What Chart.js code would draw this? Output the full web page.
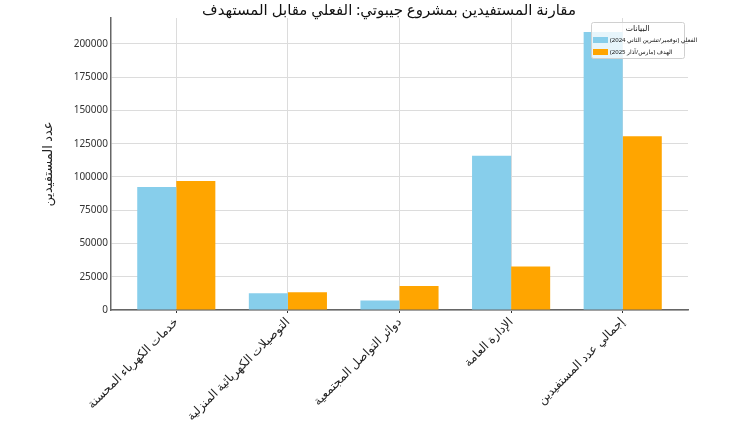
<!DOCTYPE html>
<html>
<head>
<meta charset="utf-8">
<script src="https://cdn.jsdelivr.net/npm/chart.js@4/dist/chart.umd.min.js"></script>
<style>
    html, body { margin: 0; padding: 0; background: #fff; }
    #wrap { width: 750px; height: 422px; }
</style>
</head>
<body>
<div id="wrap"><canvas id="grafica"></canvas></div>
<script>
// ============================
// DATOS
// ============================

const categorias = [
    "خدمات الكهرباء المحسنة",
    "التوصيلات الكهربائية المنزلية",
    "دوائر التواصل المجتمعية",
    "الإدارة العامة",
    "إجمالي عدد المستفيدين"
];

const valoresActual = [92500, 12500, 7200, 116000, 209000];
const valoresMeta = [97000, 13300, 18000, 32700, 130600];

const etiquetasSerie = [
    "الفعلي (نوفمبر/تشرين الثاني 2024)",
    "الهدف (مارس/آذار 2025)"
];

const ticksY = [0, 25000, 50000, 75000, 100000, 125000, 150000, 175000, 200000];

const titulo = "مقارنة المستفيدين بمشروع جيبوتي: الفعلي مقابل المستهدف";
const tituloY = "عدد المستفيدين";
const tituloLeyenda = "البيانات";

const fuente = "'Noto Sans', 'DejaVu Sans', sans-serif";


// ============================
// LEYENDA (dentro del área)
// ============================

const leyenda = {
    id: "leyenda",
    afterDatasetsDraw(chart) {
        const a = chart.chartArea;
        const ctx = chart.ctx;
        const w = 93, h = 36;
        const x = a.right - w - 4;
        const y = a.top + 4;

        ctx.save();
        ctx.fillStyle = "rgba(255,255,255,0.8)";
        ctx.strokeStyle = "#d0d0d0";
        ctx.lineWidth = 1;
        ctx.beginPath();
        ctx.roundRect(x + 0.5, y + 0.5, w, h, 2);
        ctx.fill();
        ctx.stroke();

        ctx.fillStyle = "#222";
        ctx.font = "8px " + fuente;
        ctx.textAlign = "center";
        ctx.textBaseline = "middle";
        ctx.fillText(tituloLeyenda, x + w / 2, y + 7);

        chart.data.datasets.forEach((ds, i) => {
            const fy = y + 18 + i * 12;
            ctx.fillStyle = ds.backgroundColor;
            ctx.fillRect(x + 2, fy - 3, 15, 6);
            ctx.fillStyle = "#111";
            ctx.font = "6px " + fuente;
            ctx.textAlign = "left";
            ctx.fillText(ds.label, x + 19, fy);
        });
        ctx.restore();
    }
};


// ============================
// GRÁFICA
// ============================

const ctx = document.getElementById("grafica").getContext("2d");

new Chart(ctx, {
    type: "bar",
    data: {
        datasets: [
            {
                label: etiquetasSerie[0],
                data: valoresActual.map((v, i) => ({ x: i, y: v })),
                backgroundColor: "#87CEEB"
            },
            {
                label: etiquetasSerie[1],
                data: valoresMeta.map((v, i) => ({ x: i, y: v })),
                backgroundColor: "#FFA500"
            }
        ]
    },
    options: {
        responsive: true,
        maintainAspectRatio: false,
        animation: false,
        categoryPercentage: 0.7,
        barPercentage: 1,
        layout: { padding: { left: 40, right: 12, top: 0, bottom: 0 } },
        plugins: {
            title: {
                display: true,
                text: titulo,
                color: "#111",
                font: { family: fuente, size: 15, weight: "normal", lineHeight: 1 },
                padding: { top: 3, bottom: 0 }
            },
            legend: { display: false },
            tooltip: { enabled: false }
        },
        scales: {
            x: {
                type: "linear",
                min: -0.585,
                max: 4.585,
                offset: false,
                afterBuildTicks: (s) => { s.ticks = categorias.map((_, i) => ({ value: i })); },
                afterFit: (s) => { s.height = 112; },
                ticks: {
                    autoSkip: false,
                    minRotation: 45,
                    maxRotation: 45,
                    padding: 2,
                    color: "#222",
                    font: { family: fuente, size: 12 },
                    callback: (v) => categorias[v]
                },
                grid: { offset: false, color: "#dcdcdc", tickColor: "#333", tickLength: 3 },
                border: { display: true, color: "#666", width: 1.5 }
            },
            y: {
                min: 0,
                max: 219450,
                afterBuildTicks: (s) => { s.ticks = ticksY.map(v => ({ value: v })); },
                afterFit: (s) => { s.width = 71; },
                ticks: {
                    padding: 3,
                    color: "#333",
                    font: { family: fuente, size: 10 },
                    callback: (v) => String(v)
                },
                grid: { color: "#dcdcdc", drawTicks: false },
                border: { display: true, color: "#666", width: 1.5 },
                title: {
                    display: true,
                    text: tituloY,
                    color: "#222",
                    font: { family: fuente, size: 13 },
                    padding: 0
                }
            },
            derecha: {
                position: "right",
                afterFit: (s) => { s.width = 50; },
                ticks: { display: false },
                grid: { display: false },
                border: { display: false }
            }
        }
    },
    plugins: [leyenda]
});
</script>
</body>
</html>
